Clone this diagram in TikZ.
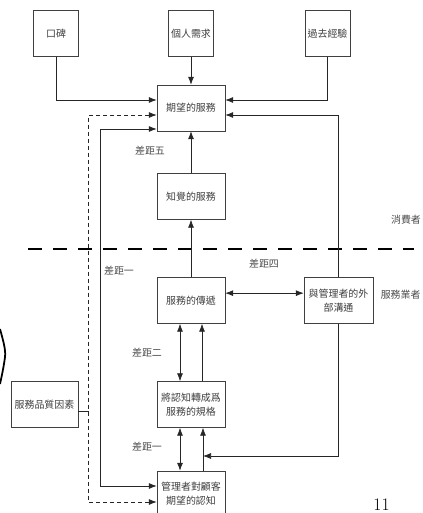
\documentclass[tikz,border=0pt]{standalone}
\usepackage{fontspec}
\newfontfamily\cjk{Noto Sans CJK TC}
\usetikzlibrary{positioning,arrows.meta}

\begin{document}
\begin{tikzpicture}[
    x=0.03cm, y=-0.03cm,
    >={Latex[length=2.4mm,width=1.8mm]},
    box/.style={draw=black!75, fill=white, minimum width=2.04cm,
                minimum height=1.38cm, inner sep=1pt, align=center,
                font=\cjk\fontsize{8.5}{12}\selectfont, text=black!75},
    smallbox/.style={box, minimum width=1.35cm},
    conn/.style={black!85, line width=0.6pt},
    gap/.style={font=\cjk\fontsize{8.5}{12}\selectfont, text=black!70},
    divider/.style={line width=1.5pt, dash pattern=on 0.42cm off 0.33cm},
]
\useasboundingbox (0,0) rectangle (422,513);

% Top row: sources of expectation
\node[smallbox] (wom)  at (56,33.5)    {口碑};
\node[smallbox] (need) at (191,33.5)   {個人需求};
\node[smallbox] (past) at (327.5,33.5) {過去經驗};

% Main column
\node[box] (expect)   at (191,108)   {期望的服務};
\node[box] (perceive) at (191,196.5) {知覺的服務};
\node[box] (deliver)  at (191,300.5) {服務的傳遞};
\node[box] (spec)     at (191,404.5) {將認知轉成爲\\服務的規格};
\node[box] (mgr)      at (191,494)   {管理者對顧客\\期望的認知};

% Side boxes
\node[box, minimum width=2.07cm] (extcom) at (338.5,300.5) {與管理者的外\\部溝通};
\node[box, minimum width=2.01cm] (factor) at (44.5,404.5)  {服務品質因素};

% Consumer / provider boundary
\draw[divider] (28,249) -- (414,249);
\node[gap] (cons) at (406,220) {消費者};
\node[gap, anchor=east, inner sep=1pt] (firm) at (422,295) {服務業者};

% Gap labels
\node[gap] (g5)  at (150,151) {差距五};
\node[gap] (g1a) at (119,271) {差距一};
\node[gap] (g4)  at (264,264) {差距四};
\node[gap] (g2)  at (147,353) {差距二};
\node[gap] (g1b) at (147,447) {差距一};

% Into expected service
\draw[conn,->] (wom.south) |- ([yshift=0.24cm]expect.west);
\draw[conn,->] (need) -- (expect);
\draw[conn,->] (past.south) |- ([yshift=0.24cm]expect.east);
\draw[conn,->] (extcom.north) |- ([yshift=-0.21cm]expect.east);
\draw[conn,->] (perceive) -- (expect);

% Provider side
\draw[conn,->] (deliver) -- (perceive);
\draw[conn,<->] ([yshift=0.22cm]deliver.east) -- ([yshift=0.22cm]extcom.west);
\draw[conn,<->] ([xshift=-0.33cm]spec.north) -- ([xshift=-0.33cm]deliver.south);
\draw[conn,->]  ([xshift=0.33cm]spec.north) -- ([xshift=0.33cm]deliver.south);
\draw[conn,<->] ([xshift=-0.33cm]mgr.north) -- ([xshift=-0.33cm]spec.south);
\draw[conn,->]  ([xshift=0.36cm]mgr.north) -- ([xshift=0.36cm]spec.south);

% Feedback from external communication
\coordinate (fb) at (203,456);
\draw[conn,->] (extcom.south) |- (fb);

% Left loops
\draw[conn,<->] ([yshift=-0.63cm]expect.west) -- ++(-56,0) |- ([yshift=0.24cm]mgr.west);
\draw[conn,<->, dash pattern=on 1.2mm off 0.9mm]
    ([yshift=-0.21cm]expect.west) -- ++(-68,0) |- ([yshift=-0.24cm]mgr.west);
\draw[conn] ([yshift=-0.22cm]factor.east) -- ++(11,0);

% Brace tip at the left edge
\draw[line width=1.5pt] (0,329) .. controls (3,340) and (6,350) .. (5,357)
    .. controls (4,365) and (2,375) .. (0,384);

% Page number
\node[font=\fontsize{15}{18}\selectfont] (page) at (381.5,505) {11};

\end{tikzpicture}
\end{document}
